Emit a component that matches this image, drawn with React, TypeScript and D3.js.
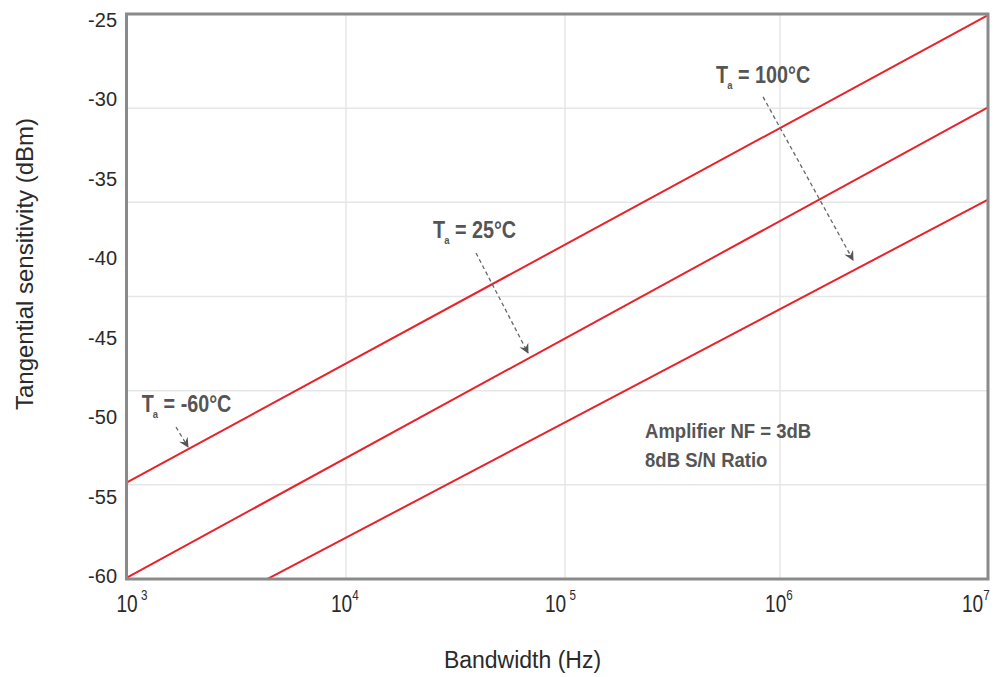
import React from "react";
import * as d3 from "d3";

// ---- data ----
const yTicks = [-25, -30, -35, -40, -45, -50, -55, -60];
const xTickBases = ["10", "10", "10", "10", "10"];
const xTickExps = ["3", "4", "5", "6", "7"];
const xTickValues = [1e3, 1e4, 1e5, 1e6, 1e7];

// Tangential sensitivity lines (bandwidth Hz, dBm)
const bwLow = [1e3, 1e7];
const tssLow = [-54.1, -24.7]; // Ta = -60°C
const bwMid = [1e3, 1e7];
const tssMid = [-60.1, -30.5]; // Ta = 25°C
const bwHigh = [4350, 1e7];
const tssHigh = [-60.2, -36.3]; // Ta = 100°C

const tempLabels = ["-60°C", "25°C", "100°C"];
const labelBw = [1172, 24950, 503700];
const labelTss = [-49.66, -38.72, -28.96];
const arrowFromBw = [1681, 39230, 833700];
const arrowFromTss = [-50.61, -39.66, -29.84];
const arrowToBw = [1906, 67760, 2244000];
const arrowToTss = [-51.86, -45.95, -40.1];

const noteLines = ["Amplifier NF = 3dB", "8dB S/N Ratio"];
const noteBw = [235600, 235600];
const noteTss = [-51.3, -53.12];

// ---- layout ----
const W = 997;
const H = 677;
const left = 126.5;
const right = 988;
const top = 14;
const bottom = 579;
const decadeFrac = [0, 0.2548, 0.509, 0.7586, 1];
const gridRows = 6;
const xTickDx = [-10, -15, -20, -15, -26];
const xSupDx = [4, 0, 4, 0, 0];

export default function App() {
  const x = d3
    .scaleLog()
    .domain(xTickValues)
    .range(decadeFrac.map((f) => left + f * (right - left)));
  const y = d3.scaleLinear().domain([-60, -25]).range([576.3, 20]);
  const gridY = d3.scaleLinear().domain([0, gridRows]).range([bottom, top]);

  const line = d3
    .line<[number, number]>()
    .x((d) => x(d[0]))
    .y((d) => y(d[1]));

  const seriesData: [number, number][][] = [
    bwLow.map((b, i) => [b, tssLow[i]] as [number, number]),
    bwMid.map((b, i) => [b, tssMid[i]] as [number, number]),
    bwHigh.map((b, i) => [b, tssHigh[i]] as [number, number]),
  ];

  const font = "'Liberation Sans', Arial, sans-serif";

  return (
    <svg
      width={W}
      height={H}
      style={{ position: "absolute", left: 0, top: 0, background: "#fff" }}
    >
      <defs>
        <marker
          id="arr"
          viewBox="0 0 10 10"
          refX="9"
          refY="5"
          markerWidth="11"
          markerHeight="10"
          markerUnits="userSpaceOnUse"
          orient="auto"
        >
          <path d="M0,0 L10,5 L0,10 L3.5,5 z" fill="#555" />
        </marker>
      </defs>
      <rect x={0} y={0} width={W} height={H} fill="#fff" />
      {/* gridlines */}
      {d3.range(1, gridRows).map((k) => (
        <line
          key={"gy" + k}
          x1={left}
          x2={right}
          y1={gridY(k)}
          y2={gridY(k)}
          stroke="#e6e6e6"
          strokeWidth={1.5}
        />
      ))}
      {xTickValues.slice(1, -1).map((v) => (
        <line
          key={"gx" + v}
          x1={x(v)}
          x2={x(v)}
          y1={top}
          y2={bottom}
          stroke="#e6e6e6"
          strokeWidth={1.5}
        />
      ))}
      {/* series */}
      {seriesData.map((d, i) => (
        <path
          key={"s" + i}
          d={line(d) || ""}
          fill="none"
          stroke="#e8222b"
          strokeWidth={2}
        />
      ))}
      {/* frame */}
      <rect
        x={left}
        y={top}
        width={right - left}
        height={bottom - top}
        fill="none"
        stroke="#8a8a8a"
        strokeWidth={3}
      />
      {/* y tick labels */}
      {yTicks.map((v) => (
        <text
          key={"yt" + v}
          x={117}
          y={y(v) + 6.7}
          textAnchor="end"
          fontFamily={font}
          fontSize={20}
          fill="#2a2a2a"
        >
          {v}
        </text>
      ))}
      {/* x tick labels */}
      {xTickValues.map((v, i) => (
        <g key={"xt" + v} transform={`translate(${x(v) + xTickDx[i]},612) scale(0.83,1)`}>
          <text x={0} y={0} fontFamily={font} fontSize={23} fill="#2a2a2a">
            {xTickBases[i]}
            <tspan dx={xSupDx[i]} dy={-12} fontSize={14}>
              {xTickExps[i]}
            </tspan>
          </text>
        </g>
      ))}
      {/* axis titles */}
      <text
        x={W / 2 + 24}
        y={668}
        textAnchor="middle"
        fontFamily={font}
        fontSize={23}
        fill="#2a2a2a"
      >
        Bandwidth (Hz)
      </text>
      <text
        transform={`translate(33, 264) rotate(-90)`}
        textAnchor="middle"
        fontFamily={font}
        fontSize={24}
        fill="#2a2a2a"
      >
        Tangential sensitivity (dBm)
      </text>
      {/* temperature annotations */}
      {tempLabels.map((t, i) => (
        <g key={"ta" + i}>
          <g transform={`translate(${x(labelBw[i])},${y(labelTss[i])}) scale(0.86,1)`}>
            <text
              x={0}
              y={0}
              fontFamily={font}
              fontWeight="bold"
              fontSize={23}
              fill="#555"
            >
              T
              <tspan dx={-1} dy={6} fontSize={11}>
                a
              </tspan>
              <tspan dy={-6}>{" = " + t}</tspan>
            </text>
          </g>
          <line
            x1={x(arrowFromBw[i])}
            y1={y(arrowFromTss[i])}
            x2={x(arrowToBw[i])}
            y2={y(arrowToTss[i])}
            stroke="#666"
            strokeWidth={1.3}
            strokeDasharray="4 3"
            markerEnd="url(#arr)"
          />
        </g>
      ))}
      {noteLines.map((t, i) => (
        <g key={"n" + i} transform={`translate(${x(noteBw[i])},${y(noteTss[i])}) scale(0.95,1)`}>
          <text
            x={0}
            y={0}
            fontFamily={font}
            fontWeight="bold"
            fontSize={19.5}
            fill="#555"
          >
            {t}
          </text>
        </g>
      ))}
    </svg>
  );
}
